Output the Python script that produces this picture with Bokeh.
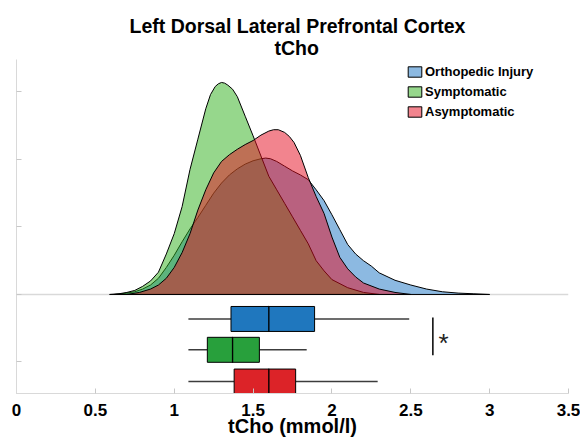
from bokeh.plotting import figure
from bokeh.models import Range1d, FixedTicker, Span, Title, Legend, LegendItem, ColumnDataSource
from bokeh.embed import file_html
from bokeh.resources import INLINE
from bokeh.core.properties import value

# ---------------- data ----------------
groups = ["Orthopedic Injury", "Symptomatic", "Asymptomatic"]

ortho_x = [0.62, 0.70, 0.75, 0.80, 0.85, 0.90, 0.95, 1.00, 1.05, 1.10, 1.15, 1.20, 1.25, 1.30,
           1.35, 1.40, 1.45, 1.50, 1.55, 1.58, 1.61, 1.65, 1.70, 1.75, 1.80, 1.85, 1.90, 1.95,
           2.00, 2.05, 2.10, 2.15, 2.20, 2.25, 2.30, 2.40, 2.50, 2.60, 2.70, 2.80, 2.90, 3.00]
ortho_d = [0, 0.02, 0.04, 0.08, 0.14, 0.24, 0.40, 0.58, 0.78, 0.97, 1.14, 1.32, 1.50, 1.65,
           1.77, 1.86, 1.93, 1.98, 2.01, 2.02, 2.01, 1.97, 1.90, 1.83, 1.77, 1.70, 1.55, 1.39,
           1.18, 0.96, 0.74, 0.60, 0.50, 0.42, 0.32, 0.21, 0.14, 0.08, 0.04, 0.02, 0.01, 0]

symp_x = [0.59, 0.65, 0.70, 0.75, 0.80, 0.85, 0.90, 0.95, 1.00, 1.05, 1.10, 1.15, 1.20, 1.23,
          1.26, 1.28, 1.30, 1.32, 1.34, 1.37, 1.40, 1.45, 1.50, 1.55, 1.60, 1.65, 1.70, 1.75,
          1.80, 1.85, 1.90, 1.95, 2.00, 2.10, 2.20, 2.30]
symp_d = [0, 0.01, 0.03, 0.06, 0.12, 0.20, 0.33, 0.60, 0.90, 1.30, 1.85, 2.30, 2.75, 2.96,
          3.08, 3.12, 3.14, 3.13, 3.10, 3.04, 2.93, 2.64, 2.35, 2.05, 1.75, 1.55, 1.35, 1.15,
          0.95, 0.75, 0.50, 0.35, 0.22, 0.10, 0.03, 0]

asym_x = [0.70, 0.78, 0.85, 0.90, 0.95, 1.00, 1.05, 1.10, 1.15, 1.20, 1.25, 1.30, 1.35, 1.40,
          1.45, 1.50, 1.55, 1.60, 1.63, 1.66, 1.70, 1.73, 1.76, 1.80, 1.85, 1.90, 1.95, 2.00,
          2.05, 2.10, 2.15, 2.20, 2.30, 2.40, 2.50]
asym_d = [0, 0.03, 0.08, 0.14, 0.24, 0.40, 0.62, 0.90, 1.25, 1.55, 1.80, 1.97, 2.07, 2.15,
          2.22, 2.28, 2.36, 2.42, 2.44, 2.44, 2.40, 2.34, 2.25, 2.06, 1.73, 1.45, 1.20, 0.85,
          0.55, 0.38, 0.26, 0.17, 0.08, 0.03, 0]

# box plot statistics (tCho, mmol/l)
box_pos = [-0.363, -0.82, -1.29]
whisk_lo = [1.09, 1.09, 1.09]
q1 = [1.36, 1.21, 1.38]
median = [1.60, 1.37, 1.60]
q3 = [1.89, 1.54, 1.77]
whisk_hi = [2.49, 1.84, 2.29]

x_ticks = [0, 0.5, 1, 1.5, 2, 2.5, 3, 3.5]
x_tick_labels = ["0", "0.5", "1", "1.5", "2", "2.5", "3", "3.5"]
y_ticks = [-1, 0, 1, 2, 3]

sig_x = 2.64
sig_y = (-0.34, -0.90)

# ---------------- styles ----------------
FONT = "Liberation Sans"
kde_colors = ["#1973c3", "#2daf19", "#e60a1e"]
box_colors = ["#1f77be", "#28a03c", "#dc2328"]
AX = "#d9d9d9"

p = figure(width=580, height=439, x_range=Range1d(0, 3.5), y_range=Range1d(-1.467, 3.48),
           output_backend="svg", toolbar_location=None,
           min_border_left=16, min_border_right=12, min_border_top=59, min_border_bottom=46)
p.grid.visible = False
p.outline_line_color = None
p.background_fill_color = "white"

p.add_layout(Span(location=0, dimension="width", line_color=AX, line_width=1.5, level="underlay"))

renderers = []
for xs, ds, c in [(ortho_x, ortho_d, kde_colors[0]), (symp_x, symp_d, kde_colors[1]),
                  (asym_x, asym_d, kde_colors[2])]:
    r = p.patch(xs, ds, fill_color=c, fill_alpha=0.5, line_color="black", line_width=1)
    renderers.append(r)

src = ColumnDataSource(dict(y=box_pos, wl=whisk_lo, q1=q1, med=median, q3=q3, wh=whisk_hi,
                            c=box_colors))
p.segment(x0="wl", y0="y", x1="q1", y1="y", source=src, line_color="#3c3c3c", line_width=1.5)
p.segment(x0="q3", y0="y", x1="wh", y1="y", source=src, line_color="#3c3c3c", line_width=1.5)
p.hbar(y="y", left="q1", right="q3", height=0.37, source=src, fill_color="c",
       line_color="black", line_width=1)
p.rect(x="med", y="y", width=0.001, height=0.37, source=src, fill_color="black",
       line_color="black", line_width=1.2)

p.segment(x0=[sig_x], y0=[sig_y[0]], x1=[sig_x], y1=[sig_y[1]], line_color="black", line_width=1.5)
p.text(x=[sig_x + 0.035], y=[-0.72], text=["*"], text_font=value(FONT), text_font_size="26px",
       text_baseline="alphabetic", text_align="left", text_color="#222222")

legend = Legend(items=[LegendItem(label=g, renderers=[r]) for g, r in zip(groups, renderers)],
                location=(390, 274), padding=0, margin=0, spacing=5, glyph_width=17,
                glyph_height=13, label_height=14, label_standoff=2,
                label_text_font=FONT, label_text_font_size="13px", label_text_font_style="bold",
                label_text_color="black", border_line_color=None, background_fill_alpha=0)
p.add_layout(legend)

xa = p.xaxis[0]
xa.ticker = FixedTicker(ticks=x_ticks)
xa.major_label_overrides = {t: l for t, l in zip(x_ticks, x_tick_labels)}
xa.minor_tick_line_color = None
xa.major_tick_in = 5
xa.major_tick_out = 0
xa.major_tick_line_color = "#c8c8c8"
xa.axis_line_color = AX
xa.major_label_text_font = FONT
xa.major_label_text_font_style = "bold"
xa.major_label_text_font_size = "17px"
xa.major_label_text_color = "black"
xa.major_label_standoff = 10
xa.axis_label = "tCho (mmol/l)"
xa.axis_label_text_font = FONT
xa.axis_label_text_font_style = "bold"
xa.axis_label_text_font_size = "20px"
xa.axis_label_text_color = "black"
xa.axis_label_standoff = -4

ya = p.yaxis[0]
ya.ticker = FixedTicker(ticks=y_ticks)
ya.major_label_overrides = {t: "" for t in y_ticks}
ya.minor_tick_line_color = None
ya.major_tick_in = 5
ya.major_tick_out = 0
ya.major_tick_line_color = "#c8c8c8"
ya.axis_line_color = AX
ya.major_label_standoff = 0

p.title.text = "Left Dorsal Lateral Prefrontal Cortex"
p.title.align = "left"
p.title.offset = 113
p.title.text_font = FONT
p.title.text_font_size = "19.5px"
p.title.text_font_style = "bold"
p.title.text_color = "black"
p.title.standoff = -4
p.add_layout(Title(text="tCho", align="left", offset=258, text_font=FONT, text_font_size="19.5px",
                   text_font_style="bold", text_color="black", standoff=1), "above")

open("out.html", "w").write(file_html(p, INLINE))
